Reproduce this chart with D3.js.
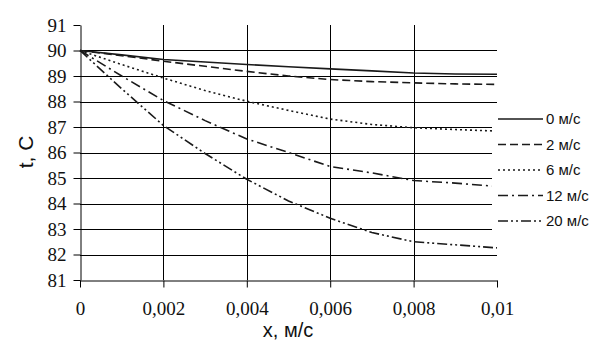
<!DOCTYPE html>
<html>
<head>
<meta charset="utf-8">
<script src="https://cdn.jsdelivr.net/npm/d3@7"></script>
<style>
  body { margin: 0; background: #fff; }
  svg { display: block; }
</style>
</head>
<body>
<svg id="vis" width="605" height="353"></svg>
<script>
// x positions (m) and temperatures for each air speed
var xs = [0, 0.001, 0.002, 0.003, 0.004, 0.005, 0.006, 0.007, 0.008, 0.009, 0.01];

var t0  = [90, 89.83, 89.65, 89.55, 89.45, 89.36, 89.28, 89.2, 89.12, 89.08, 89.07];
var t2  = [90, 89.8, 89.58, 89.38, 89.18, 89.0, 88.86, 88.78, 88.73, 88.69, 88.67];
var t6  = [90, 89.45, 88.92, 88.43, 88.01, 87.65, 87.31, 87.1, 86.97, 86.9, 86.84];
var t12 = [90, 89.0, 88.04, 87.25, 86.53, 86.0, 85.45, 85.2, 84.9, 84.8, 84.67];
var t20 = [90, 88.5, 87.06, 85.96, 84.95, 84.1, 83.42, 82.86, 82.5, 82.38, 82.26];

var seriesNames = ['0 м/с', '2 м/с', '6 м/с', '12 м/с', '20 м/с'];
var seriesVals = [t0, t2, t6, t12, t20];
var dashes = [null, '8,4', '2,3', '10,4,2,4', '10,3,2,3,2,3'];

var xTicks = [0, 0.002, 0.004, 0.006, 0.008, 0.01];
var xTickLabels = ['0', '0,002', '0,004', '0,006', '0,008', '0,01'];
var yTicks = [81, 82, 83, 84, 85, 86, 87, 88, 89, 90, 91];

var plot = {l: 80, r: 497, t: 25, b: 280};

var svg = d3.select('#vis');

var x = d3.scaleLinear().domain([0, 0.01]).range([plot.l, plot.r]);
var y = d3.scaleLinear().domain([81, 91]).range([plot.b, plot.t]);

//horizontal gridlines (none at the top value)
svg.append('g').selectAll('line')
    .data(yTicks.filter(function(d){ return d > 81 && d < 91; }))
    .enter().append('line')
    .attr('x1', plot.l).attr('x2', plot.r)
    .attr('y1', function(d){ return Math.round(y(d)) + 0.5; })
    .attr('y2', function(d){ return Math.round(y(d)) + 0.5; })
    .attr('stroke', '#000').attr('stroke-width', 1);

//vertical gridlines
svg.append('g').selectAll('line')
    .data(xTicks.filter(function(d){ return d > 0 && d < 0.01; }))
    .enter().append('line')
    .attr('x1', function(d){ return Math.round(x(d)) + 0.5; })
    .attr('x2', function(d){ return Math.round(x(d)) + 0.5; })
    .attr('y1', plot.t).attr('y2', plot.b)
    .attr('stroke', '#000').attr('stroke-width', 1);

//y axis
var yAxis = svg.append('g')
    .attr('transform', 'translate(' + (plot.l + 0.5) + ',0)')
    .call(d3.axisLeft(y).tickValues(yTicks).tickSize(7).tickSizeOuter(0).tickPadding(7));

//x axis
var xAxis = svg.append('g')
    .attr('transform', 'translate(0,' + (plot.b + 0.5) + ')')
    .call(d3.axisBottom(x).tickValues(xTicks).tickSize(7).tickSizeOuter(0).tickPadding(14)
        .tickFormat(function(d, i){ return xTickLabels[i]; }));

svg.selectAll('.domain, .tick line').attr('stroke', '#000').attr('stroke-width', 1);
svg.selectAll('.tick text')
    .attr('fill', '#111')
    .attr('font-family', 'Liberation Serif')
    .style('font-family', 'Liberation Serif')
    .style('font-size', '19px');

//lines
var line = d3.line()
    .x(function(d, i){ return x(xs[i]); })
    .y(function(d){ return y(d); });

seriesVals.forEach(function(vals, i){
    svg.append('path')
        .datum(vals)
        .attr('d', line)
        .attr('fill', 'none')
        .attr('stroke', '#1a1a1a')
        .attr('stroke-width', 1.6)
        .attr('stroke-dasharray', dashes[i]);
});

//axis titles
svg.append('text')
    .attr('x', 288).attr('y', 337)
    .style('text-anchor', 'middle')
    .style('font-family', 'Liberation Sans')
    .style('font-size', '20px')
    .attr('fill', '#111')
    .text('x, м/с');

svg.append('text')
    .attr('transform', 'translate(33,152) rotate(-90)')
    .style('text-anchor', 'middle')
    .style('font-family', 'Liberation Sans')
    .style('font-size', '21px')
    .attr('fill', '#111')
    .text('t, C');

//legend
var legend = svg.append('g').attr('class', 'legend');

legend.append('rect')
    .attr('x', 492).attr('y', 105)
    .attr('width', 113).attr('height', 133)
    .attr('fill', '#fff');

var items = legend.selectAll('.item')
    .data(seriesNames)
    .enter().append('g')
    .attr('class', 'item')
    .attr('transform', function(d, i){ return 'translate(0,' + (119 + i * 25.5) + ')'; });

items.append('line')
    .attr('x1', 498).attr('x2', 543)
    .attr('y1', 0).attr('y2', 0)
    .attr('stroke', '#1a1a1a')
    .attr('stroke-width', 1.6)
    .attr('stroke-dasharray', function(d, i){ return dashes[i]; });

items.append('text')
    .attr('x', 546).attr('y', 5)
    .style('font-family', 'Liberation Sans')
    .style('font-size', '15px')
    .attr('fill', '#111')
    .text(function(d){ return d; });
</script>
</body>
</html>
